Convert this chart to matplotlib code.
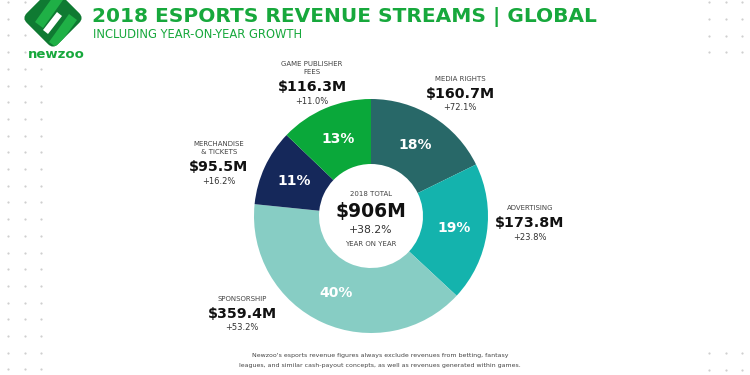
import matplotlib
matplotlib.use("Agg")
import matplotlib.pyplot as plt
from matplotlib.patches import Polygon, FancyBboxPatch
import matplotlib.transforms as mtransforms

# ---- data ----
categories = ["MEDIA RIGHTS", "ADVERTISING", "SPONSORSHIP", "MERCHANDISE\n& TICKETS", "GAME PUBLISHER\nFEES"]
revenues = [160.7, 173.8, 359.4, 95.5, 116.3]          # $M
growth = ["+72.1%", "+23.8%", "+53.2%", "+16.2%", "+11.0%"]
colors = ["#286868", "#14b3ad", "#87cdc4", "#15285a", "#0aa83a"]
total_label = "$906M"
total_growth = "+38.2%"

W, H = 750, 375
fig = plt.figure(figsize=(7.5, 3.75), dpi=100)
ax = fig.add_axes([0, 0, 1, 1])

def Y(p):
    return H - p

FONT = "DejaVu Sans"
GREEN = "#17a83c"
DARK = "#111111"
GREY = "#444444"

# dots background
for col in (8, 25, 41):
    for i in range(23):
        yy = 2 + i * 16.7
        ax.plot(col, Y(yy), "o", ms=1.6, color="#cfcfcf", mec="none", zorder=0)
for col in (709, 726, 742):
    for yy in (2, 19, 36, 52, 353, 370):
        ax.plot(col, Y(yy), "o", ms=1.6, color="#cfcfcf", mec="none", zorder=0)

# donut
cx, cy, R, r_in = 371, Y(216), 117, 52
wedges, _, autotexts = ax.pie(
    revenues, colors=colors, startangle=90, counterclock=False,
    center=(cx, cy), radius=R, frame=True,
    wedgeprops=dict(width=R - r_in, linewidth=0),
    autopct="%.0f%%", pctdistance=0.72,
    textprops=dict(color="white", fontsize=10, fontweight="bold", family=FONT),
)
ax.set_xlim(0, W)
ax.set_ylim(0, H)
ax.set_aspect("equal")
ax.axis("off")

# center text
ax.text(cx, Y(194), "2018 TOTAL", ha="center", va="center", fontsize=5.0, color=GREY, family=FONT)
ax.text(cx, Y(211), total_label, ha="center", va="center", fontsize=13.5, fontweight="bold", color=DARK, family=FONT)
ax.text(cx, Y(230), total_growth, ha="center", va="center", fontsize=7.8, color="#333333", family=FONT)
ax.text(cx, Y(244), "YEAR ON YEAR", ha="center", va="center", fontsize=5.0, color=GREY, family=FONT)

# outer labels (x, y of category line center)
label_pos = [(460, 79), (530, 208), (242, 299), (219, 148), (312, 68)]
for (lx, ly), cat, val, g in zip(label_pos, categories, revenues, growth):
    nlines = cat.count("\n") + 1
    ax.text(lx, Y(ly), cat, ha="center", va="center", fontsize=5.0, color=GREY,
            family=FONT, linespacing=1.35)
    off = 4 if nlines > 1 else 0
    ax.text(lx, Y(ly + off + 15), f"${val:.1f}M", ha="center", va="center", fontsize=10.3,
            fontweight="bold", color=DARK, family=FONT)
    ax.text(lx, Y(ly + off + 29), g, ha="center", va="center", fontsize=6.0, color="#333333", family=FONT)

# title
ax.text(92, Y(17), "2018 ESPORTS REVENUE STREAMS | GLOBAL", ha="left", va="center",
        fontsize=14.5, fontweight="bold", color=GREEN, family=FONT)
ax.text(93, Y(35), "INCLUDING YEAR-ON-YEAR GROWTH", ha="left", va="center",
        fontsize=8.3, color=GREEN, family=FONT)

# logo: rounded diamond with diagonal bands
lx0, ly0, s = 53, Y(18), 44
logo = FancyBboxPatch((-s / 2, -s / 2), s, s, boxstyle="round,pad=0,rounding_size=7",
                      fc="#0f7a32", ec="none", zorder=3)
logo.set_transform(mtransforms.Affine2D().rotate_deg(45).translate(lx0, ly0) + ax.transData)
ax.add_patch(logo)
bands = [
    ([(lx0 - 18, Y(22)), (lx0 - 10, Y(28)), (lx0 + 10, Y(0)), (lx0 + 2, Y(-6))], "#1fb046"),
    ([(lx0 - 4, Y(42)), (lx0 + 4, Y(48)), (lx0 + 24, Y(20)), (lx0 + 16, Y(14))], "#1fb046"),
    ([(lx0 - 10, Y(30)), (lx0 - 5, Y(34)), (lx0 + 9, Y(16)), (lx0 + 4, Y(12))], "white"),
]
for pts, c in bands:
    p = Polygon(pts, closed=True, fc=c, ec="none", zorder=4)
    ax.add_patch(p)
    p.set_clip_path(logo)
ax.text(56, Y(54), "newzoo", ha="center", va="center", fontsize=9.5, fontweight="bold",
        color=GREEN, family=FONT)

# footnote
ax.text(380, Y(356), "Newzoo's esports revenue figures always exclude revenues from betting, fantasy",
        ha="center", va="center", fontsize=4.5, color="#444444", family=FONT)
ax.text(380, Y(365), "leagues, and similar cash-payout concepts, as well as revenues generated within games.",
        ha="center", va="center", fontsize=4.5, color="#444444", family=FONT)

fig.savefig("out.png", dpi=100, facecolor="white")
